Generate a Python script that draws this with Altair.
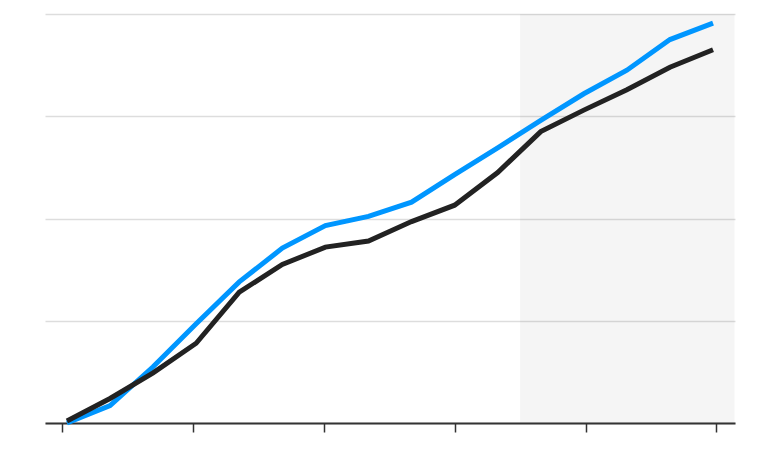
import altair as alt
import pandas as pd

periods = list(range(16))
series_a = [0.00, 0.17, 0.55, 0.97, 1.38, 1.71, 1.93, 2.02, 2.16, 2.43, 2.69, 2.96, 3.22, 3.45, 3.75, 3.91]
series_b = [0.02, 0.24, 0.49, 0.78, 1.28, 1.55, 1.72, 1.78, 1.97, 2.13, 2.45, 2.85, 3.06, 3.26, 3.48, 3.65]
tick_positions = [-0.12, 2.92, 5.96, 9.0, 12.04, 15.08]
shade_start = [10.52]
shade_end = [15.5]

rows = []
for p, a, b in zip(periods, series_a, series_b):
    rows.append({"x": p, "y": a, "s": "A"})
    rows.append({"x": p, "y": b, "s": "B"})
df = pd.DataFrame(rows)
shade_df = pd.DataFrame({"x": shade_start, "x2": shade_end})

xscale = alt.Scale(domain=[-0.51, 15.51], nice=False, zero=False)
yscale = alt.Scale(domain=[0, 4], nice=False)

xaxis = alt.Axis(values=tick_positions, labels=False, title=None, grid=False,
                 domainColor="#333333", domainWidth=2, tickColor="#333333",
                 tickWidth=1.5, tickSize=9)
yaxis = alt.Axis(values=[0, 1, 2, 3, 4], labels=False, title=None, ticks=False,
                 domain=False, gridColor="#dddddd", gridWidth=1.5)

shade = alt.Chart(shade_df).mark_rect(color="#000000", opacity=0.04).encode(
    x=alt.X("x:Q", scale=xscale, axis=xaxis),
    x2="x2:Q",
    y=alt.value(0),
    y2=alt.value(409),
)

lines = alt.Chart(df).mark_line(strokeWidth=5, strokeCap="butt", strokeJoin="miter").encode(
    x=alt.X("x:Q", scale=xscale, axis=xaxis),
    y=alt.Y("y:Q", scale=yscale, axis=yaxis),
    color=alt.Color("s:N", scale=alt.Scale(domain=["A", "B"], range=["#0096ff", "#222222"]), legend=None),
    order=alt.Order("x:Q"),
)

chart = alt.layer(shade, lines).properties(
    width=690, height=409,
    padding={"left": 37, "top": 6, "right": 10, "bottom": 10},
    autosize=alt.AutoSizeParams(type="none"),
).configure_view(stroke=None)

chart.save("out.html", embed_options={"renderer": "svg", "actions": False})
